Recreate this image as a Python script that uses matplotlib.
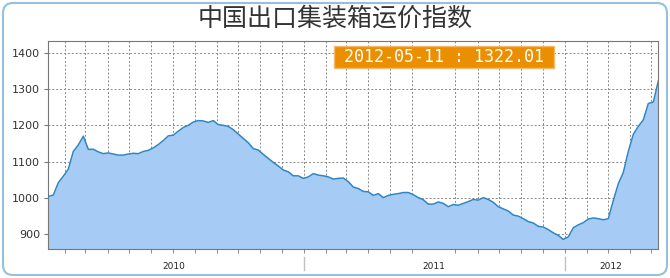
#China export container freight index (CCFI), weekly
import pandas as pd
import matplotlib
matplotlib.use('Agg')
import matplotlib.pyplot as plt
import matplotlib.dates as mdates
import matplotlib.patches as patches
import matplotlib.transforms as mtransforms

#weekly values, starting 2010-01-08
start_date = '2010-01-08'
index_values = [1004, 1008, 1042, 1060, 1079, 1128, 1146, 1170, 1134, 1134,
                1127, 1122, 1124, 1121, 1118, 1118, 1121, 1123, 1122, 1128,
                1131, 1138, 1147, 1158, 1171, 1173, 1184, 1194, 1200, 1209,
                1213, 1212, 1208, 1213, 1202, 1200, 1197, 1188, 1176, 1164,
                1152, 1136, 1132, 1120, 1109, 1098, 1088, 1077, 1072, 1061,
                1061, 1054, 1058, 1067, 1063, 1061, 1058, 1052, 1054, 1055,
                1045, 1030, 1026, 1018, 1017, 1007, 1012, 1001, 1007, 1010,
                1012, 1015, 1015, 1009, 1001, 995, 983, 983, 989, 985,
                976, 982, 980, 985, 990, 996, 994, 1001, 996, 988,
                976, 970, 964, 953, 950, 943, 935, 931, 922, 920,
                913, 904, 897, 886, 893, 918, 926, 932, 942, 945,
                943, 940, 943, 993, 1039, 1070, 1128, 1175, 1197, 1215,
                1260, 1264, 1322.01]
y_ticks = [900, 1000, 1100, 1200, 1300, 1400]
year_labels = ['2010', '2011', '2012']
year_label_dates = ['2010-07-02', '2011-07-01', '2012-03-06']
year_starts = ['2011-01-01', '2012-01-01']

dates = pd.date_range(start_date, periods=len(index_values), freq='7D')
y_bottom = 858.7
y_top = 1433

fig = plt.figure(figsize=(6.7, 2.78), dpi=100)
ax = fig.add_axes([48.3/670, 1-249.3/278, 610/670, 208.6/278])

#area and line
ax.fill_between(dates, index_values, y_bottom, color='#a6cbf4', linewidth=0, zorder=2)
ax.plot(dates, index_values, color='#2f86c0', linewidth=1.1, zorder=3)

ax.set_xlim(dates[0], dates[-1])
ax.set_ylim(y_bottom, y_top)

#grid
grid_style = dict(color='#8a8a8a', linestyle=(0, (2, 2)), linewidth=0.7)
ax.set_yticks(y_ticks)
ax.yaxis.grid(True, **grid_style)
ax.xaxis.set_minor_locator(mdates.MonthLocator())
ax.xaxis.grid(True, which='minor', **grid_style)
ax.set_axisbelow(True)

#ticks
ax.set_xticks(pd.to_datetime(year_label_dates))
ax.set_xticklabels(year_labels)
ax.tick_params(axis='x', which='major', length=0, pad=9, labelsize=6.5, labelcolor='#222')
ax.tick_params(axis='x', which='minor', length=3, color='#777')
ax.tick_params(axis='y', length=3, color='#777', labelsize=8, labelcolor='#333', pad=3)

for yr in year_starts:
    ax.axvline(pd.Timestamp(yr), ymin=-0.1, ymax=-0.035, clip_on=False,
               color='#c0c0c0', linewidth=1)

for sp in ax.spines.values():
    sp.set_color('#777777')

#title
fig.text(0.5, 1-19/278, '中国出口集装箱运价指数', ha='center', va='center',
         fontsize=18, family=['Noto Sans CJK SC', 'DejaVu Sans'], color='#333333')

#label box with last value
box = patches.Rectangle((334/670, 1-68.3/278), 220/670, 22.6/278,
                        transform=fig.transFigure, facecolor='#eb8f00',
                        edgecolor='#f4bc6a', linewidth=1, zorder=5)
fig.add_artist(box)
fig.text(444/670, 1-57/278, f'{dates[-1]:%Y-%m-%d} : {index_values[-1]:.2f}',
         ha='center', va='center', color='white', fontsize=12,
         family='DejaVu Sans Mono', zorder=6)

#rounded outer frame
frame = patches.FancyBboxPatch((3, 3), 664, 272, boxstyle='round,pad=0,rounding_size=10',
                               transform=mtransforms.IdentityTransform(),
                               fill=False, edgecolor='#94c2dc', linewidth=1.5)
fig.add_artist(frame)

fig.savefig('out.png', dpi=100)
